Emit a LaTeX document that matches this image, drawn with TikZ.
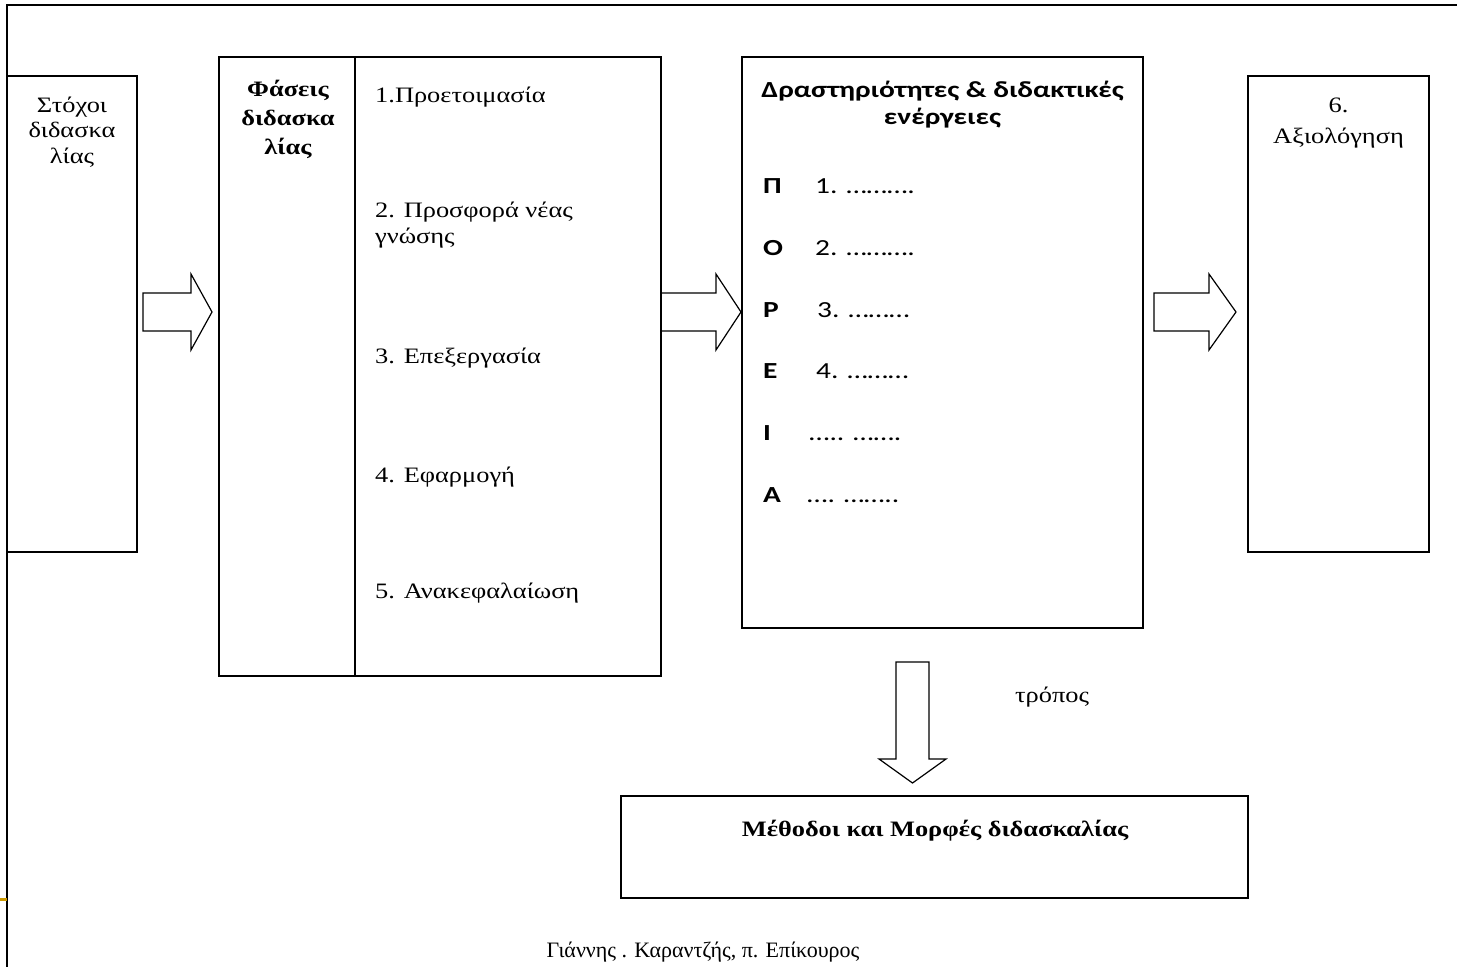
\documentclass[tikz,border=0pt]{standalone}
\usepackage{fontspec}
\setmainfont{Liberation Serif}[FakeStretch=1.2]
\newfontfamily\calibri{Carlito}[FakeStretch=1.28]
\newfontfamily\footfont{Liberation Serif}
\usepackage{tikz}
\usetikzlibrary{positioning}

\definecolor{slidegold}{RGB}{204,153,0}

\begin{document}
\begin{tikzpicture}[x=1pt,y=-1pt,
  box/.style={draw,line width=1.6pt,inner sep=0pt},
  blockarrow/.style={draw,line width=1.2pt,line join=miter},
  txt/.style={inner sep=0pt,font=\fontsize{22}{25.5}\selectfont},
  btxt/.style={inner sep=0pt,font=\bfseries\fontsize{22}{29}\selectfont},
  ctxt/.style={inner sep=0pt,font=\calibri\fontsize{23}{27}\selectfont},
  cbtxt/.style={inner sep=0pt,font=\calibri\bfseries\fontsize{23}{27}\selectfont}]
\useasboundingbox (0,0) rectangle (1457,967);
%
\draw [line width=1.6pt] (1457,5) -- (7,5) -- (7,967);
\draw [slidegold,line width=3pt] (0,899) -- (7,899);
%%
\node (goals) at (72,314) [box,minimum width=130pt,minimum height=476pt] {};
\node (phases) at (440,366.5) [box,minimum width=442pt,minimum height=619pt] {};
\node (acts) at (942.5,342.5) [box,minimum width=401pt,minimum height=571pt] {};
\node (evalbox) at (1338.5,314) [box,minimum width=181pt,minimum height=476pt] {};
\node (methods) at (934.5,847) [box,minimum width=627pt,minimum height=102pt] {};
\draw [line width=1.6pt] ([xshift=137pt]phases.north west) -- ([xshift=137pt]phases.south west);
%%
\node (goalstxt) at (72,163) [txt,align=center,anchor=base] {Στόχοι\\διδασκα\\λίας};
\node (phasestitle) at (288,154) [btxt,align=center,anchor=base] {Φάσεις\\διδασκα\\λίας};
\node (ph1) at (375,102) [txt,anchor=base west] {1.Προετοιμασία};
\node (ph2) at (375,243) [txt,align=left,anchor=base west] {2. Προσφορά νέας\\γνώσης};
\node (ph3) at (375,363) [txt,anchor=base west] {3. Επεξεργασία};
\node (ph4) at (375,482) [txt,anchor=base west] {4. Εφαρμογή};
\node (ph5) at (375,598) [txt,anchor=base west] {5. Ανακεφαλαίωση};
%
\node (actstitle) at (942.5,124) [cbtxt,align=center,anchor=base] {Δραστηριότητες \& διδακτικές\\ενέργειες};
\foreach \l/\t/\xt/\y [count=\i] in {Π/1. ………./815/193, Ο/2. ………./815/255, Ρ/3. ………/817/317,
    Ε/4. ………/816/378, Ι/….. ……./809/440, Α/…. ……../807/502} {
  \node (let\i) at (763,\y) [cbtxt,anchor=base west] {\l};
  \node (step\i) at (\xt,\y) [ctxt,anchor=base west] {\t};
}
%
\node (evaltxt) at (1338.5,143) [txt,align=center,anchor=base] {6.\\[5pt]Αξιολόγηση};
\node (methodstxt) at (935,836) [btxt,anchor=base] {Μέθοδοι και Μορφές διδασκαλίας};
\node (waytxt) at (1052,702) [txt,anchor=base] {τρόπος};
\node (footer) at (703,957) [txt,font=\footfont\fontsize{22}{25}\selectfont,anchor=base] {Γιάννης . Καραντζής, π. Επίκουρος};
%%
\foreach \xa/\xb/\xc in {143/191/212, 661/716/741, 1154/1209/1236}
  \draw [blockarrow] (\xa,293) -- (\xb,293) -- (\xb,274) -- (\xc,312) -- (\xb,350) -- (\xb,331) -- (\xa,331) -- cycle;
\draw [blockarrow] (896,662) -- (896,759) -- (879,759) -- (912.5,783) -- (946,759) -- (929,759) -- (929,662) -- cycle;
\end{tikzpicture}
\end{document}
